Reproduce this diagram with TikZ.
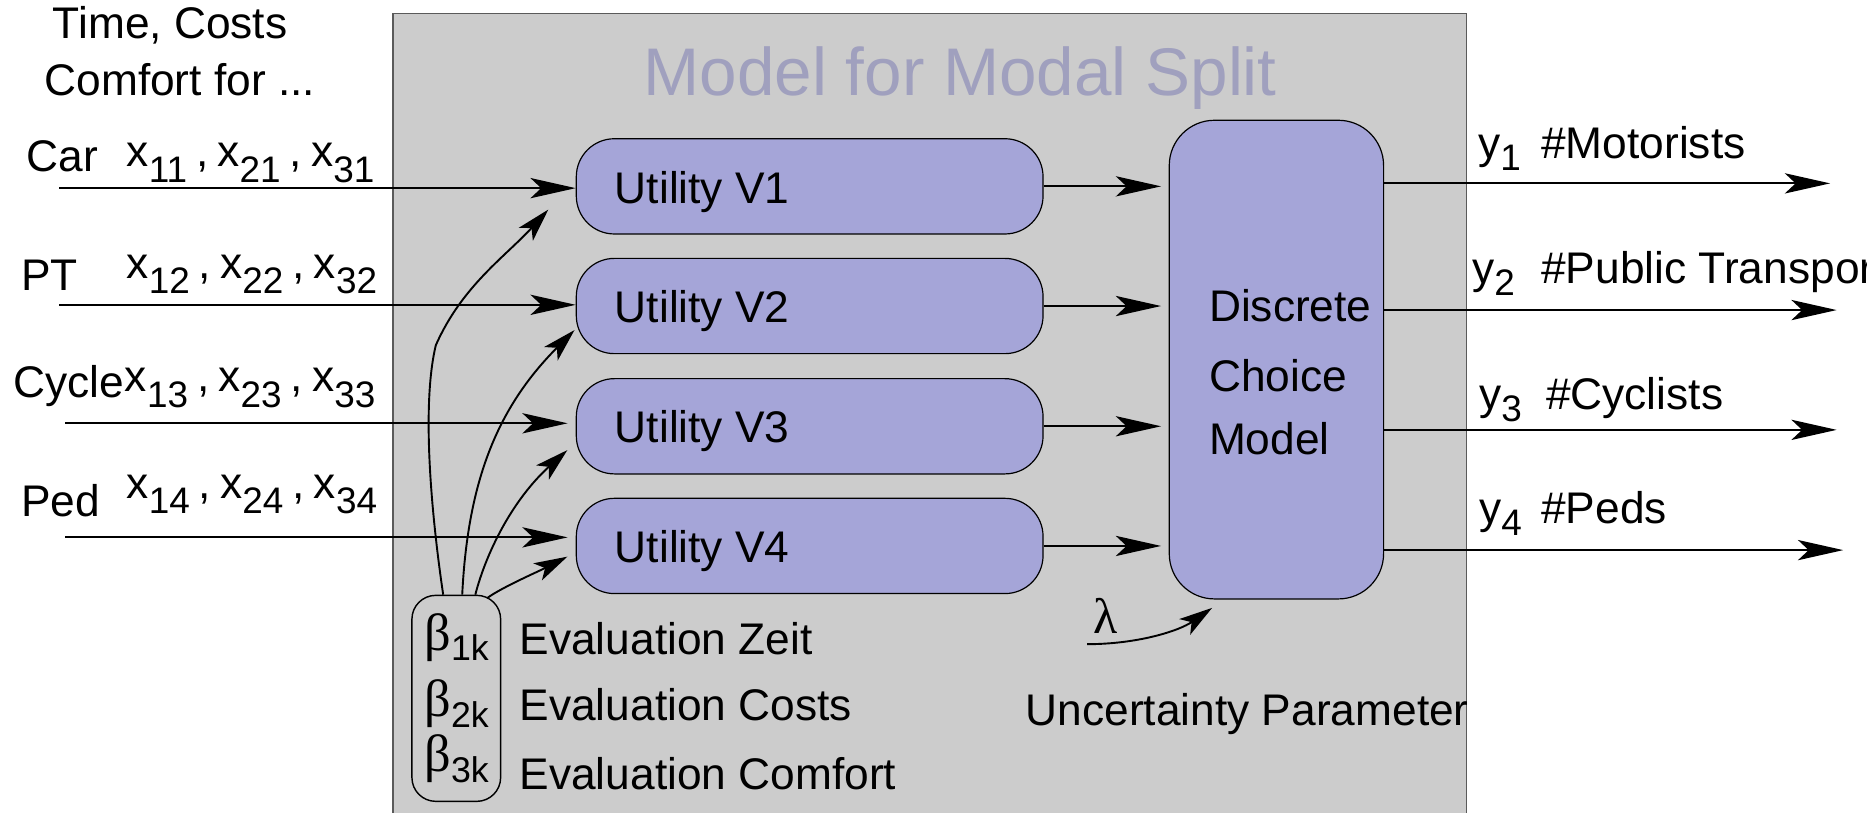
\documentclass[tikz,border=0pt]{standalone}
\usepackage{fontspec}
\setmainfont{Liberation Sans}
\newfontfamily\grk{Liberation Serif}
\usetikzlibrary{arrows.meta,calc}

\definecolor{panelgray}{RGB}{204,204,204}
\definecolor{boxlav}{RGB}{165,165,216}
\definecolor{titlelav}{RGB}{160,160,190}
\definecolor{framegray}{RGB}{90,90,90}

% lowered indices for the attribute and output symbols
\newcommand{\xsub}[1]{\raisebox{-6.5pt}{\fontsize{15.5}{15.5}\selectfont #1}}
\newcommand{\ysub}[1]{\raisebox{-5pt}{\fontsize{15.5}{15.5}\selectfont #1}}
\newcommand{\bsub}[1]{\raisebox{-4.5pt}{\fontsize{15}{15}\selectfont #1}}
\newcommand{\xrow}[3]{x\xsub{#1}\kern3.8pt,\kern3.8pt x\xsub{#2}\kern3.8pt,\kern3.8pt x\xsub{#3}}
\newcommand{\betak}[1]{{\grk\fontsize{22}{22}\selectfont β}\bsub{#1k}}

\begin{document}
\begin{tikzpicture}[x=0.5pt,y=-0.5pt,
  lbl/.style={inner sep=0pt, anchor=base west, font=\fontsize{18.6}{22}\selectfont},
  utilbox/.style={draw=black, line width=0.5pt, fill=boxlav, rounded corners=16pt,
                  minimum width=196pt, minimum height=40pt, inner sep=0pt},
  dcmbox/.style={draw=black, line width=0.5pt, fill=boxlav, rounded corners=19pt,
                 minimum width=90pt, minimum height=201pt, inner sep=0pt},
  betabox/.style={draw=black, line width=0.6pt, rounded corners=10pt,
                  minimum width=37.25pt, minimum height=86.5pt, inner sep=0pt},
  flow/.style={line width=0.8pt, -{Stealth[length=19pt,width=8.5pt,inset=4.5pt]}},
  weight/.style={line width=0.8pt, -{Stealth[length=14pt,width=8pt,inset=3.5pt]}},
]
\useasboundingbox (0,0) rectangle (1568,682);
\clip (0,0) rectangle (1568,682);

% model panel
\node[draw=framegray, line width=0.5pt, fill=panelgray, minimum width=450.75pt,
      minimum height=360pt, inner sep=0pt, anchor=north west] (panel) at (329.5,11) {};
\node[inner sep=0pt, anchor=base, text=titlelav, font=\fontsize{28.3}{30}\selectfont]
  (title) at (806.5,80) {Model for Modal Split};

% utility boxes
\node[utilbox] (u1) at (680,156.5) {};
\node[utilbox] (u2) at (680,257) {};
\node[utilbox] (u3) at (680,358) {};
\node[utilbox] (u4) at (680,458.5) {};
\node[lbl] (u1t) at (516,170.5) {Utility V1};
\node[lbl] (u2t) at (516,271) {Utility V2};
\node[lbl] (u3t) at (516,372) {Utility V3};
\node[lbl] (u4t) at (516,472.5) {Utility V4};

% discrete choice model
\node[dcmbox] (dcm) at (1072,302) {};
\node[lbl] (dcm1) at (1015,270) {Discrete};
\node[lbl] (dcm2) at (1015,329) {Choice};
\node[lbl] (dcm3) at (1015,382) {Model};

% attribute inputs
\node[lbl] (hd1) at (44,32.2) {Time, Costs};
\node[lbl] (hd2) at (37,79.8) {Comfort for ...};

\node[lbl] (car) at (22,144.2) {Car};
\node[lbl] (xcar) at (106,140) {\xrow{11}{21}{31}};
\node[lbl] (pt) at (17.5,243.6) {PT};
\node[lbl] (xpt) at (106,233.8) {\xrow{12}{22}{32}};
\node[lbl] (cyc) at (11,333.7) {Cycle};
\node[lbl] (xcyc) at (104.5,329) {\xrow{13}{23}{33}};
\node[lbl] (ped) at (17.5,434) {Ped};
\node[lbl] (xped) at (106,418.5) {\xrow{14}{24}{34}};

\coordinate (in1) at (49.8,158);
\coordinate (in2) at (49.8,256);
\coordinate (in3) at (54.6,355.5);
\coordinate (in4) at (54.6,451.3);
\draw[flow] (in1) -- (in1 -| u1.west);
\draw[flow] (in2) -- (in2 -| u2.west);
\draw[flow, shorten >=3.4pt] (in3) -- (in3 -| u3.west);
\draw[flow, shorten >=3.4pt] (in4) -- (in4 -| u4.west);

% utilities into the choice model
\draw[flow, shorten >=3.2pt] (u1.east) -- (u1.east -| dcm.west);
\draw[flow, shorten >=3.2pt] (u2.east) -- (u2.east -| dcm.west);
\draw[flow, shorten >=3.2pt] (u3.east) -- (u3.east -| dcm.west);
\draw[flow, shorten >=3.2pt] (u4.east) -- (u4.east -| dcm.west);

% modal split outputs
\coordinate (o1) at (1537,154);
\coordinate (o2) at (1542.5,260.4);
\coordinate (o3) at (1542.5,361);
\coordinate (o4) at (1548,462);
\draw[flow] (o1 -| dcm.east) -- (o1);
\draw[flow] (o2 -| dcm.east) -- (o2);
\draw[flow] (o3 -| dcm.east) -- (o3);
\draw[flow] (o4 -| dcm.east) -- (o4);

\node[lbl] (y1) at (1241,133) {y\ysub{1}};
\node[lbl] (n1) at (1294,133) {\#Motorists};
\node[lbl] (y2) at (1236,237.8) {y\ysub{2}};
\node[lbl] (n2) at (1294,237.8) {\#Public Transport};
\node[lbl] (y3) at (1242,344) {y\ysub{3}};
\node[lbl] (n3) at (1298,344) {\#Cyclists};
\node[lbl] (y4) at (1242,439.5) {y\ysub{4}};
\node[lbl] (n4) at (1294,439.5) {\#Peds};

% evaluation weights
\node[betabox] (beta) at (383.2,586.5) {};
\node[lbl] (b1) at (356,546) {\betak{1}};
\node[lbl] (b2) at (356,602) {\betak{2}};
\node[lbl] (b3) at (356,648) {\betak{3}};
\node[lbl] (e1) at (436,550) {Evaluation Zeit};
\node[lbl] (e2) at (436,605) {Evaluation Costs};
\node[lbl] (e3) at (436,663) {Evaluation Comfort};

\draw[weight] ($(beta.north)+(-11,0)$) .. controls (362,430) and (354,340) .. (366,290)
   .. controls (388,240) and (425,215) .. ($(u1.west)+(-23,19.5)$);
\draw[weight] ($(beta.north)+(5,0)$) .. controls (393,400) and (420,340) .. ($(u2.west)+(-1,20.2)$);
\draw[weight] ($(beta.north)+(16,0)$) .. controls (408,465) and (430,420) .. ($(u3.west)+(-7,20)$);
\draw[weight] ($(beta.north east)+(-12,3)$) .. controls (420,494) and (452,480) .. ($(u4.west)+(-7,9)$);

% uncertainty parameter
\node[inner sep=0pt, anchor=base west, font=\grk\fontsize{21}{21}\selectfont] (lam) at (918,532) {λ};
\coordinate (lstart) at (913,541);
\draw[weight] (lstart) .. controls (955,541) and (990,530) .. ($(dcm.south west)+(36.5,7)$);
\node[lbl] (unc) at (861,609) {Uncertainty Parameter};
\end{tikzpicture}
\end{document}
